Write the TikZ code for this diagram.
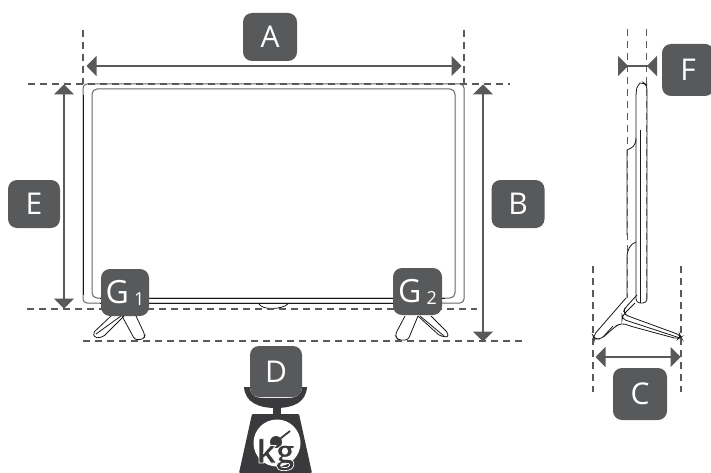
\documentclass[tikz,border=0pt]{standalone}
\usepackage{fontspec}
\setmainfont{Open Sans}
\usetikzlibrary{arrows.meta}
\definecolor{boxgrey}{HTML}{58595B}
\definecolor{scaledark}{HTML}{3A3A3C}
\tikzset{
	badge/.style={fill=boxgrey,rounded corners=9pt,text=white,font=\fontsize{30}{30}\selectfont,inner sep=0pt,anchor=center},
	dim/.style={boxgrey,line width=1.6pt,{Triangle[length=10pt,width=20pt]}-{Triangle[length=10pt,width=20pt]},shorten <=-.5pt,shorten >=-.5pt},
	guide/.style={boxgrey,line width=1.4pt,dash pattern=on 7pt off 5pt},
	outline/.style={black!90,line width=.8pt},
}
\newcommand{\subidx}[1]{\,\raisebox{-2pt}{\fontsize{18}{18}\selectfont #1}}
\begin{document}
\begin{tikzpicture}[x=1pt,y=-1pt]
	      \useasboundingbox (0,0) rectangle (711,473);
	      \path
		(87,66) coordinate (widthL)
		(461,66) coordinate (widthR)
		(64,85) coordinate (heightT)
		(64,308) coordinate (heightB)
		(483,85) coordinate (totalT)
		(483,341) coordinate (totalB)
		(618,66) coordinate (depthL)
		(657,66) coordinate (depthR)
		(596,357) coordinate (standL)
		(680,357) coordinate (standR)
	      ;
	      % Front view
		  \draw[outline,black!60,line width=1pt,rounded corners=4pt] (83,84) rectangle (464,303);
		  \draw[outline,black!60,line width=1pt,rounded corners=5pt] (92,89) rectangle (455,298);
		  \draw[outline] (83,95)--(83,295);
		  \draw[outline] (100,303)--(440,303) (100,298)--(445,298);
		  \draw[outline] (259,304) .. controls (262,310) and (281,310) .. (288,304);
		  % Stand feet
		  \draw[outline,rounded corners=2pt] (111,316)--(93,333)--(95,338)--(103,337)--(124,316);
		  \draw[outline] (96,334)--(121,316);
		  \draw[outline,rounded corners=3pt] (122,316)--(135,340)--(144,339)--(145,335)--(136,316);
		  \draw[outline,rounded corners=3pt] (405,316)--(395,335)--(398,340)--(408,340)--(418,316);
		  \draw[outline,rounded corners=2pt] (418,316)--(440,336)--(448,337)--(448,333)--(431,316);
		  \draw[outline] (420,316)--(444,336);
		  % Side view
		  \draw[outline,rounded corners=4pt] (636,303)--(636,92) .. controls (637,87) and (640,83) .. (644,83) -- (647,85)--(647,303)--cycle;
		  \draw[outline] (640,303)--(640,130);
		  \draw[outline] (636,138) .. controls (636,146) and (632,148) .. (627,150)--(627,235);
		  \draw[outline] (636,242) .. controls (630,244) and (627,250) .. (627,258)--(627,298);
		  \draw[outline,rounded corners=4pt] (626,298)--(593,336)--(594,339)--(601,339)--(616,326)--(622,323)--(630,326)--(678,339)--(681,337)--(680,335)--(628,316)--(623,313)--(625,308)--(637,295);
		  \draw[outline,rounded corners=4pt] (635,303)--(622,316)--(622,319)--(680,338);
		  \draw[outline,rounded corners=3pt] (613,326)--(603,337);
		  % Guides
		  \draw[guide] (28,84)--(510,84);
		  \draw[guide] (27,309)--(477,309);
		  \draw[guide] (83,341)--(525,341);
		  \draw[guide] (83,30)--(83,84);
		  \draw[guide] (464,30)--(464,84);
		  \draw[guide] (627.5,29)--(627.5,298);
		  \draw[guide] (646.5,29)--(646.5,303);
		  \draw[guide] (593,266)--(593,392);
		  \draw[guide] (681,266)--(681,392);
		  % Dimensions
		  \draw[dim] (widthL)--(widthR);
		  \draw[dim] (heightT)--(heightB);
		  \draw[dim] (totalT)--(totalB);
		  \draw[boxgrey,line width=1.6pt,{Triangle[length=10pt,width=20pt,reversed]}-{Triangle[length=10pt,width=20pt,reversed]}] (depthL)--(depthR);
		  \draw[dim] (standL)--(standR);
		  % Annotations
		  \node[badge,minimum width=54pt,minimum height=48pt] (boxA) at (270,37) {A};
		  \node[badge,minimum width=52pt,minimum height=48pt] (boxE) at (34,204) {E};
		  \node[badge,minimum width=53pt,minimum height=48pt] (boxB) at (518,204) {B};
		  \node[badge,minimum width=54pt,minimum height=52pt] (boxC) at (640,394) {C};
		  \node[badge,minimum width=52pt,minimum height=52pt] (boxF) at (688,70) {F};
		  \node[badge,font=\fontsize{32}{32}\selectfont,minimum width=48pt,minimum height=47pt] (boxGa) at (125,292.5) {G\subidx{1}};
		  \node[badge,font=\fontsize{32}{32}\selectfont,minimum width=49pt,minimum height=47pt] (boxGb) at (417.5,291.5) {G\subidx{2}};
		  % Scale
		  \fill[scaledark] (244,387) .. controls (245,402) and (258,408) .. (276,408) .. controls (294,408) and (306,402) .. (307,387) -- (302,387) -- (302,390) .. controls (300,396) and (295,398) .. (288,398) -- (264,398) .. controls (256,398) and (252,396) .. (250,390) -- (250,387) -- cycle;
		  \fill[scaledark] (273,407) rectangle (281,415);
		  \fill[scaledark,rounded corners=1pt] (252,414)--(299,414)--(312,473)--(239,473)--cycle;
		  \fill[white] (277,443) circle (23.5);
		  \node[badge,minimum width=52pt,minimum height=51pt] (boxD) at (276,371.5) {D};
		  \coordinate (hub) at (276,442);
		  \coordinate (needleTip) at (290,431);
		  \fill[scaledark] (hub) circle (6);
		  \draw[scaledark,line width=1.8pt] (hub)--(needleTip);
		  \node[text=scaledark,font=\bfseries\fontsize{32}{32}\selectfont,inner sep=0pt,anchor=base] (unit) at (275.5,463) {\special{pdf:code q 1 1 1 RG .7 w 2 Tr}kg\special{pdf:code Q}};
	    \end{tikzpicture}
\end{document}
